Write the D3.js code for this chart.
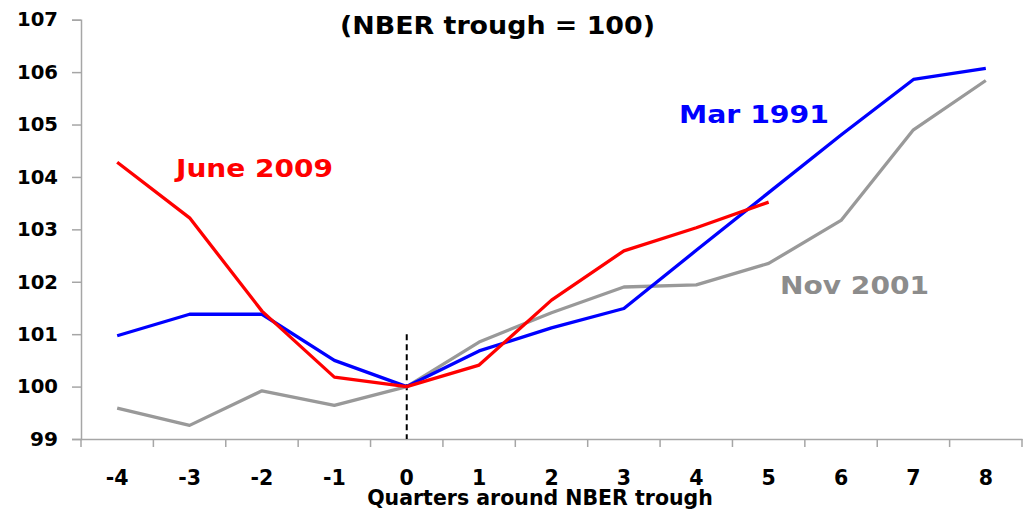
<!DOCTYPE html>
<html>
<head>
<meta charset="utf-8">
<script src="https://cdn.jsdelivr.net/npm/d3@7"></script>
<style>
  body { margin: 0; background: #fff; }
  svg { display: block; font-family: "DejaVu Sans", sans-serif; font-weight: bold; }
</style>
</head>
<body>
<div id="chartArea"></div>
<script>
let quarters = [-4, -3, -2, -1, 0, 1, 2, 3, 4, 5, 6, 7, 8]
let yTicks = [99, 100, 101, 102, 103, 104, 105, 106, 107]

// index levels, NBER trough = 100
let june2009 = [104.28, 103.22, 101.44, 100.18, 100, 100.41, 101.65, 102.59, 103.03, 103.52]
let mar1991 = [100.97, 101.38, 101.38, 100.50, 100, 100.68, 101.12, 101.49, 102.60, 103.70, 104.80, 105.86, 106.07]
let nov2001 = [99.59, 99.26, 99.92, 99.64, 100, 100.85, 101.41, 101.90, 101.94, 102.35, 103.17, 104.90, 105.84]

let series = [
  { name: 'June 2009', values: june2009, color: '#ff0000', label: [176, 177, 157] },
  { name: 'Mar 1991', values: mar1991, color: '#0000ff', label: [679, 123, 150] },
  { name: 'Nov 2001', values: nov2001, color: '#999999', labelColor: '#8c8c8c', label: [780, 294, 149] }
]

let svgWidth = 1028
let svgHeight = 509

let xScale = d3.scaleBand()
              .domain(quarters)
              .range([81, 1022])

let yScale = d3.scaleLinear()
              .domain([99, 107])
              .range([439, 19.7])

let svg = d3.select('#chartArea')
    .append('svg')
    .attr('width', svgWidth)
    .attr('height', svgHeight)

// y axis
let yAxis = svg.append('g')
    .attr('transform', 'translate(81,0)')
    .call(d3.axisLeft(yScale).tickValues(yTicks).tickSize(9).tickPadding(14).tickFormat(d => d))
yAxis.select('.domain').attr('stroke', '#a6a6a6').attr('stroke-width', 1.5)
yAxis.selectAll('.tick line').attr('stroke', '#a6a6a6').attr('stroke-width', 1.5)
yAxis.selectAll('.tick text')
    .attr('fill', '#000')
    .attr('textLength', 41)
    .attr('lengthAdjust', 'spacingAndGlyphs')
    .style('font-size', '19.5px')
    .style('font-family', '"DejaVu Sans", sans-serif')
    .style('font-weight', 'bold')
yAxis.selectAll('.tick text').filter(d => d < 100).attr('textLength', 28)

// x axis: labels at band centres, tick marks at band edges
let xAxis = svg.append('g')
    .attr('transform', 'translate(0,' + yScale(99) + ')')
    .call(d3.axisBottom(xScale).tickSize(0).tickPadding(31).tickFormat(d => d))
xAxis.select('.domain').attr('stroke', '#a6a6a6').attr('stroke-width', 1.5)
xAxis.selectAll('.tick text')
    .attr('fill', '#000')
    .style('font-size', '20.5px')
    .style('font-family', '"DejaVu Sans", sans-serif')
    .style('font-weight', 'bold')

let edges = quarters.map(q => xScale(q)).concat([xScale.range()[1]])
xAxis.selectAll('line.edge')
    .data(edges)
    .enter()
    .append('line')
    .attr('class', 'edge')
    .attr('x1', d => d)
    .attr('x2', d => d)
    .attr('y1', 0)
    .attr('y2', 8)
    .attr('stroke', '#a6a6a6')
    .attr('stroke-width', 1.5)

// trough marker
svg.append('line')
    .attr('x1', xScale(0) + xScale.bandwidth() / 2)
    .attr('x2', xScale(0) + xScale.bandwidth() / 2)
    .attr('y1', yScale(101))
    .attr('y2', yScale(99))
    .attr('stroke', '#000')
    .attr('stroke-width', 2)
    .attr('stroke-dasharray', '6,4')

let line = d3.line()
    .x((d, i) => xScale(quarters[i]) + xScale.bandwidth() / 2)
    .y(d => yScale(d))

// draw grey first, then blue, red on top
let drawOrder = [series[2], series[1], series[0]]
svg.selectAll('path.series')
    .data(drawOrder)
    .enter()
    .append('path')
    .attr('class', 'series')
    .attr('d', d => line(d.values))
    .attr('fill', 'none')
    .attr('stroke', d => d.color)
    .attr('stroke-width', 3.3)
    .attr('stroke-linejoin', 'round')

svg.selectAll('text.label')
    .data(series)
    .enter()
    .append('text')
    .attr('class', 'label')
    .attr('x', d => d.label[0])
    .attr('y', d => d.label[1])
    .attr('textLength', d => d.label[2])
    .attr('lengthAdjust', 'spacingAndGlyphs')
    .attr('fill', d => d.labelColor || d.color)
    .style('font-size', '24px')
    .text(d => d.name)

svg.append('text')
    .attr('x', 340)
    .attr('y', 34)
    .attr('textLength', 315)
    .attr('lengthAdjust', 'spacingAndGlyphs')
    .style('font-size', '25px')
    .text('(NBER trough = 100)')

svg.append('text')
    .attr('x', 540)
    .attr('y', 505)
    .attr('text-anchor', 'middle')
    .style('font-size', '20.5px')
    .text('Quarters around NBER trough')
</script>
</body>
</html>
